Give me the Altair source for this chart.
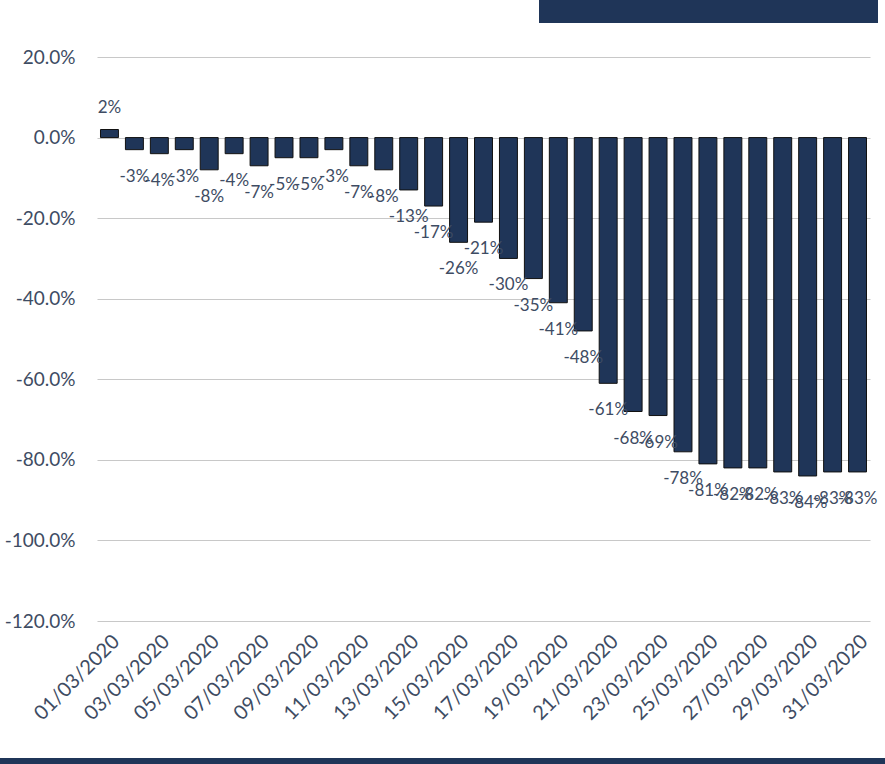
import altair as alt
import pandas as pd

days = [f"{d:02d}/03/2020" for d in range(1, 32)]
values = [2, -3, -4, -3, -8, -4, -7, -5, -5, -3, -7, -8, -13, -17, -26, -21,
          -30, -35, -41, -48, -61, -68, -69, -78, -81, -82, -82, -83, -84, -83, -83]
y_ticks = [0.2, 0.0, -0.2, -0.4, -0.6, -0.8, -1.0, -1.2]
x_tick_labels = days[::2]

df = pd.DataFrame({"date": days, "value": [v / 100 for v in values]})

NAVY = "#1f3558"
TEXT = "#3e4c63"
FONT = "Lato"

x = alt.X("date:N", sort=None, title=None,
          scale=alt.Scale(paddingInner=0.28, paddingOuter=0.14),
          axis=alt.Axis(values=x_tick_labels, labelAngle=-45, labelFontSize=20,
                        labelColor=TEXT, labelFont=FONT, ticks=False, domain=False,
                        labelPadding=10, grid=False))
y = alt.Y("value:Q", title=None,
          scale=alt.Scale(domain=[-1.2, 0.2], nice=False),
          axis=alt.Axis(values=y_ticks, labelFontSize=19,
                        labelExpr="replace(format(datum.value, '.1%'), '\u2212', '-')",
                        labelColor=TEXT, labelFont=FONT, ticks=False, domain=False,
                        labelPadding=22, grid=True, gridColor="#c8c8c8",
                        gridWidth=1.2))

base = alt.Chart(df).transform_calculate(
    lbl="replace(format(datum.value, '.0%'), '\u2212', '-')"
)
bars = base.mark_bar(color=NAVY, stroke="#111111", strokeWidth=1).encode(x=x, y=y)

pos_labels = base.transform_filter("datum.value >= 0").mark_text(
    dy=-22, fontSize=17, color=TEXT, font=FONT
).encode(x=x, y=y, text="lbl:N")

neg_labels = base.transform_filter("datum.value < 0").mark_text(
    dy=27, fontSize=17, color=TEXT, font=FONT
).encode(x=x, y=y, text="lbl:N")

deco = alt.Chart(pd.DataFrame({"k": [0]}))
top_box = deco.mark_rect(color=NAVY).encode(
    x=alt.value(539 - 97), x2=alt.value(878 - 97),
    y=alt.value(-57), y2=alt.value(23 - 57))
bottom_band = deco.mark_rect(color=NAVY).encode(
    x=alt.value(-97), x2=alt.value(885 - 97),
    y=alt.value(758 - 57), y2=alt.value(764 - 57))

chart = alt.layer(bars, pos_labels, neg_labels, top_box, bottom_band).properties(
    width=773, height=564,
    autosize=alt.AutoSizeParams(type="none"),
    padding={"left": 97, "top": 57, "right": 15, "bottom": 143},
    background="white",
).configure_view(stroke=None)

chart.save("out.html", embed_options={"renderer": "svg", "actions": False})
